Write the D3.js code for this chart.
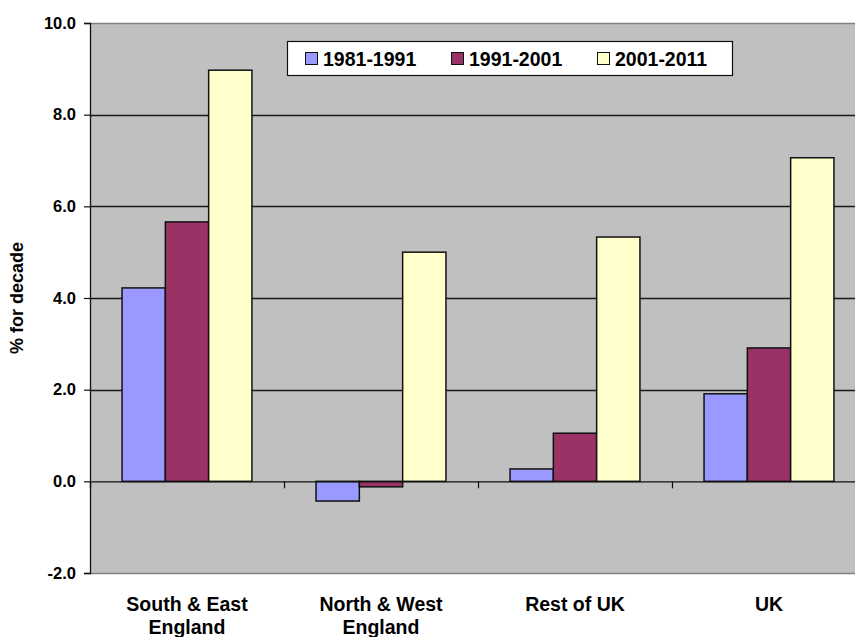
<!DOCTYPE html>
<html>
<head>
<meta charset="utf-8">
<script src="https://cdn.jsdelivr.net/npm/d3@7"></script>
<style>
  html, body { margin: 0; padding: 0; background: #fff; }
  svg { display: block; font-family: "Liberation Sans", Arial, sans-serif; font-weight: bold; }
</style>
</head>
<body>
<svg id="chart" width="855" height="637"></svg>
<script>
// Population change by region, % for decade
const categories = [["South & East", "England"], ["North & West", "England"], ["Rest of UK"], ["UK"]];
const series = ["1981-1991", "1991-2001", "2001-2011"];
const values1981 = [4.22, -0.43, 0.27, 1.91];
const values1991 = [5.66, -0.12, 1.05, 2.91];
const values2001 = [8.97, 5.00, 5.33, 7.06];
const yTicks = [-2, 0, 2, 4, 6, 8, 10];
const colors = ["#9999FF", "#993366", "#FFFFCC"];

const seriesValues = [values1981, values1991, values2001];
const catKeys = categories.map(c => c.join(" "));

const svg = d3.select("#chart");
const plotLeft = 90, plotRight = 866, plotTop = 23, plotBottom = 573;

const y = d3.scaleLinear().domain([-2, 10]).range([plotBottom, plotTop]);
const x0 = d3.scaleBand().domain(catKeys).range([plotLeft, plotRight]).padding(0);
const x1 = d3.scaleBand().domain(series).range([0, x0.bandwidth()])
  .paddingInner(0).paddingOuter(0.74);

// plot area
svg.append("rect")
  .attr("x", plotLeft).attr("y", plotTop)
  .attr("width", plotRight - plotLeft).attr("height", plotBottom - plotTop)
  .attr("fill", "#C0C0C0");

// gridlines
svg.append("g").selectAll("line")
  .data(yTicks.filter(t => t !== 0 && t !== -2 && t !== 10))
  .join("line")
  .attr("x1", plotLeft).attr("x2", plotRight)
  .attr("y1", d => Math.round(y(d)) + 0.5).attr("y2", d => Math.round(y(d)) + 0.5)
  .attr("stroke", "#1a1a1a").attr("stroke-width", 1.4);

// top and bottom borders
[10, -2].forEach(v => {
  svg.append("line")
    .attr("x1", plotLeft).attr("x2", plotRight)
    .attr("y1", Math.round(y(v)) + 0.5).attr("y2", Math.round(y(v)) + 0.5)
    .attr("stroke", "#808080").attr("stroke-width", 1.5);
});

// bars
const groups = svg.append("g").selectAll("g")
  .data(catKeys)
  .join("g")
  .attr("transform", d => `translate(${x0(d)},0)`);

groups.selectAll("rect")
  .data((d, i) => series.map((s, j) => ({ s, v: seriesValues[j][i], j })))
  .join("rect")
  .attr("x", d => x1(d.s))
  .attr("width", x1.bandwidth())
  .attr("y", d => y(Math.max(0, d.v)))
  .attr("height", d => Math.abs(y(d.v) - y(0)))
  .attr("fill", d => colors[d.j])
  .attr("stroke", "#111").attr("stroke-width", 1.5);

// category axis at zero
const xAxis = d3.axisBottom(x0).tickSize(7).tickFormat("");
const xg = svg.append("g")
  .attr("transform", `translate(0,${y(0)})`)
  .call(xAxis);
xg.select(".domain").attr("stroke", "#111").attr("stroke-width", 1.3);
// ticks sit on the band boundaries
xg.selectAll(".tick").remove();
xg.selectAll(".sep")
  .data(catKeys.slice(1))
  .join("line")
  .attr("class", "sep")
  .attr("x1", d => x0(d) + 0.5).attr("x2", d => x0(d) + 0.5)
  .attr("y1", 0).attr("y2", 7)
  .attr("stroke", "#111").attr("stroke-width", 1.2);

// category labels
svg.append("g").selectAll("text")
  .data(categories)
  .join("text")
  .attr("text-anchor", "middle")
  .attr("font-size", 19.5)
  .attr("fill", "#000")
  .attr("x", (d, i) => x0(catKeys[i]) + x0.bandwidth() / 2)
  .attr("y", 611)
  .each(function (d) {
    const t = d3.select(this);
    d.forEach((line, k) => {
      t.append("tspan")
        .attr("x", t.attr("x"))
        .attr("dy", k === 0 ? 0 : 23)
        .text(line);
    });
  });

// value axis (plain hyphen for negatives)
const fmt = d3.format(".1f");
const yAxis = d3.axisLeft(y).tickValues(yTicks).tickSize(6).tickPadding(8)
  .tickFormat(d => fmt(d).replace("\u2212", "-"));
const yg = svg.append("g")
  .attr("transform", `translate(${plotLeft},0)`)
  .call(yAxis);
yg.select(".domain").attr("stroke", "#111").attr("stroke-width", 1.3);
yg.selectAll(".tick line").attr("stroke", "#111").attr("stroke-width", 1.2);
yg.selectAll(".tick text")
  .attr("font-size", 16.5).attr("font-family", "'Liberation Sans', Arial, sans-serif")
  .attr("font-weight", "bold").attr("fill", "#000");

// axis title
svg.append("text")
  .attr("transform", `translate(23,${(plotTop + plotBottom) / 2}) rotate(-90)`)
  .attr("text-anchor", "middle")
  .attr("font-size", 18)
  .attr("fill", "#000")
  .text("% for decade");

// legend
const lg = svg.append("g").attr("transform", "translate(287,41)");
lg.append("rect")
  .attr("x", 0.5).attr("y", 0.5).attr("width", 445).attr("height", 34)
  .attr("fill", "#fff").attr("stroke", "#111").attr("stroke-width", 1.2);
const itemX = [18, 164, 310];
const items = lg.selectAll("g.item")
  .data(series)
  .join("g")
  .attr("class", "item")
  .attr("transform", (d, i) => `translate(${itemX[i]},0)`);
items.append("rect")
  .attr("x", 0.5).attr("y", 11.5).attr("width", 12).attr("height", 12)
  .attr("fill", (d, i) => colors[i])
  .attr("stroke", "#111").attr("stroke-width", 1);
items.append("text")
  .attr("x", 18).attr("y", 24.5)
  .attr("font-size", 19.5)
  .attr("fill", "#000")
  .text(d => d);
</script>
</body>
</html>
